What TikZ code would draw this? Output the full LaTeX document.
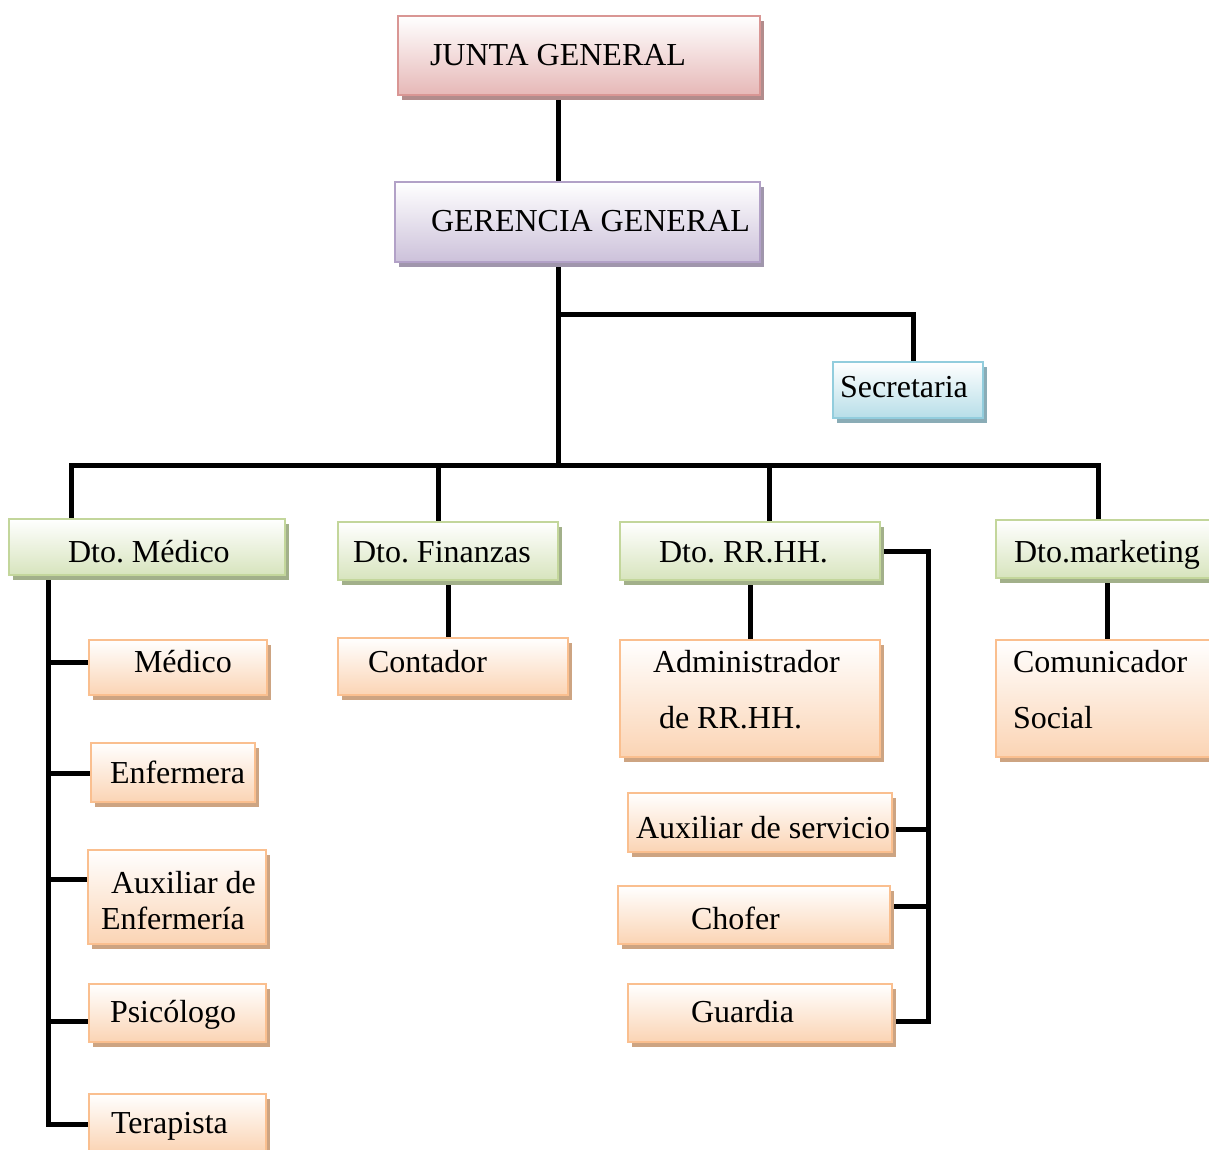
\documentclass[tikz,border=0pt]{standalone}
\usepackage{fontspec}
\setmainfont{Liberation Serif}
\usetikzlibrary{shadows,backgrounds}
\frenchspacing

% box colours: border, bottom of the gradient, drop shadow
\definecolor{pinkline}{RGB}{217,150,148}
\definecolor{pinkfill}{RGB}{230,184,183}
\definecolor{pinkshade}{RGB}{178,140,140}
\definecolor{lilacline}{RGB}{178,161,199}
\definecolor{lilacfill}{RGB}{204,193,218}
\definecolor{lilacshade}{RGB}{160,150,172}
\definecolor{skyline}{RGB}{146,205,221}
\definecolor{skyfill}{RGB}{183,222,232}
\definecolor{skyshade}{RGB}{138,172,182}
\definecolor{leafline}{RGB}{195,214,155}
\definecolor{leaffill}{RGB}{215,228,189}
\definecolor{leafshade}{RGB}{162,176,138}
\definecolor{peachline}{RGB}{250,191,143}
\definecolor{peachfill}{RGB}{251,212,180}
\definecolor{peachshade}{RGB}{205,164,130}

% #1 box width, #2 left indent of the text, #3 baseline below the box centre, #4 text
\newcommand\celltext[4]{\makebox[#1pt][l]{\hspace*{#2pt}\smash{\raisebox{-#3pt}{#4}}}}
% two stacked lines, #3 extra gap between them
\newcommand\twolines[3]{\begin{tabular}[t]{@{}l@{}}#1\\[#3pt]#2\end{tabular}}

\tikzset{
  orgcell/.style={rectangle, inner sep=0pt, outer sep=0pt, line width=2.5pt,
    anchor=north west, top color=white, font=\fontsize{32}{36}\selectfont},
  tinted/.style n args={3}{orgcell, draw=#1, bottom color=#2,
    drop shadow={shadow xshift=4pt, shadow yshift=-5pt, fill=#3, draw=none, opacity=1}},
  pinkcell/.style={tinted={pinkline}{pinkfill}{pinkshade}},
  lilaccell/.style={tinted={lilacline}{lilacfill}{lilacshade}},
  skycell/.style={tinted={skyline}{skyfill}{skyshade}},
  leafcell/.style={tinted={leafline}{leaffill}{leafshade}},
  peachcell/.style={tinted={peachline}{peachfill}{peachshade}},
  wire/.style={line width=5pt, draw=black},
}

\begin{document}
\begin{tikzpicture}[x=1pt, y=-1pt]
\useasboundingbox (0,0) rectangle (1209,1149);
\clip (0,0) rectangle (1209,1149);

% top of the hierarchy
\node[pinkcell, minimum height=79] (junta) at (398,16)
  {\celltext{362}{32}{10}{JUNTA GENERAL}};
\node[lilaccell, minimum height=80] (gerencia) at (395,182)
  {\celltext{365}{36}{9.5}{GERENCIA GENERAL}};
\node[skycell, minimum height=56] (secretaria) at (833,362)
  {\celltext{150}{7}{7}{Secretaria}};

% departments
\node[leafcell, minimum height=56] (dmed) at (9,519)
  {\celltext{276}{59}{15}{Dto. Médico}};
\node[leafcell, minimum height=58] (dfin) at (338,522)
  {\celltext{220}{15}{11}{Dto. Finanzas}};
\node[leafcell, minimum height=58] (drh) at (620,522)
  {\celltext{260}{39}{11}{Dto. RR.HH.}};
\node[leafcell, minimum height=58] (dmkt) at (996,520)
  {\celltext{240}{18}{13}{Dto.marketing}};

% staff of the medical department
\node[peachcell, minimum height=55] (medico) at (89,640)
  {\celltext{178}{45}{5}{Médico}};
\node[peachcell, minimum height=59] (enfermera) at (91,743)
  {\celltext{164}{19}{11}{Enfermera}};
\node[peachcell, minimum height=94] (auxenf) at (88,850)
  {\celltext{178}{13}{-4}{\twolines{\hspace*{10pt}Auxiliar de}{Enfermería}{0}}};
\node[peachcell, minimum height=58] (psicologo) at (89,984)
  {\celltext{177}{21}{9}{Psicólogo}};
\node[peachcell, minimum height=58] (terapista) at (89,1094)
  {\celltext{177}{22}{10}{Terapista}};

% finance, human resources, marketing
\node[peachcell, minimum height=57] (contador) at (338,638)
  {\celltext{230}{30}{5.5}{Contador}};
\node[peachcell, minimum height=117] (admin) at (620,640)
  {\celltext{260}{33}{-26.5}{\twolines{Administrador}{\hspace*{6pt}de RR.HH.}{20}}};
\node[peachcell, minimum height=59] (auxserv) at (628,793)
  {\celltext{264}{8}{16}{Auxiliar de servicio}};
\node[peachcell, minimum height=58] (chofer) at (618,886)
  {\celltext{272}{73}{14.5}{Chofer}};
\node[peachcell, minimum height=58] (guardia) at (628,984)
  {\celltext{264}{63}{9}{Guardia}};
\node[peachcell, minimum height=117] (comunicador) at (996,640)
  {\celltext{240}{17}{-26.5}{\twolines{Comunicador}{Social}{20}}};

% junction points of the connectors
\coordinate (j1) at (558,314);
\coordinate (j2) at (558,465);
\coordinate (s1) at (913,314);
\coordinate (b1) at (71,465);
\coordinate (b2) at (438,465);
\coordinate (b3) at (769,465);
\coordinate (b4) at (1098,465);
\coordinate (m1) at (48,662);
\coordinate (m2) at (48,773);
\coordinate (m3) at (48,879);
\coordinate (m4) at (48,1021);
\coordinate (m5) at (48,1124);
\coordinate (r0) at (928,551);
\coordinate (r1) at (928,829);
\coordinate (r2) at (928,906);
\coordinate (r3) at (928,1021);
\coordinate (k0) at (1107,600);

\begin{pgfonlayer}{background}
  \fill[white] (0,0) rectangle (1209,1149);
  \draw[wire] (junta.south -| j1) -- (gerencia.north -| j1);
  \draw[wire] (gerencia.south -| j1) -- (j2);
  \draw[wire] (j1) -- (s1) -- (s1 |- secretaria.north);
  \draw[wire] (b1 |- dmed.north) -- (b1) -- (b4) -- (b4 |- dmkt.north);
  \draw[wire] (b2) -- (b2 |- dfin.north);
  \draw[wire] (b3) -- (b3 |- drh.north);
  % medical department
  \draw[wire] (dmed.south -| m5) -- (m5) -- (m5 -| terapista.west);
  \draw[wire] (m1) -- (m1 -| medico.west);
  \draw[wire] (m2) -- (m2 -| enfermera.west);
  \draw[wire] (m3) -- (m3 -| auxenf.west);
  \draw[wire] (m4) -- (m4 -| psicologo.west);
  % finance
  \draw[wire] (dfin.south) -- (dfin.south |- contador.north);
  % human resources
  \draw[wire] (drh.south) -- (drh.south |- admin.north);
  \draw[wire] (drh.east) -- (r0) -- (r3) -- (r3 -| guardia.east);
  \draw[wire] (r1) -- (r1 -| auxserv.east);
  \draw[wire] (r2) -- (r2 -| chofer.east);
  % marketing
  \draw[wire] (dmkt.south -| k0) -- (k0 |- comunicador.north);
\end{pgfonlayer}
\end{tikzpicture}
\end{document}
